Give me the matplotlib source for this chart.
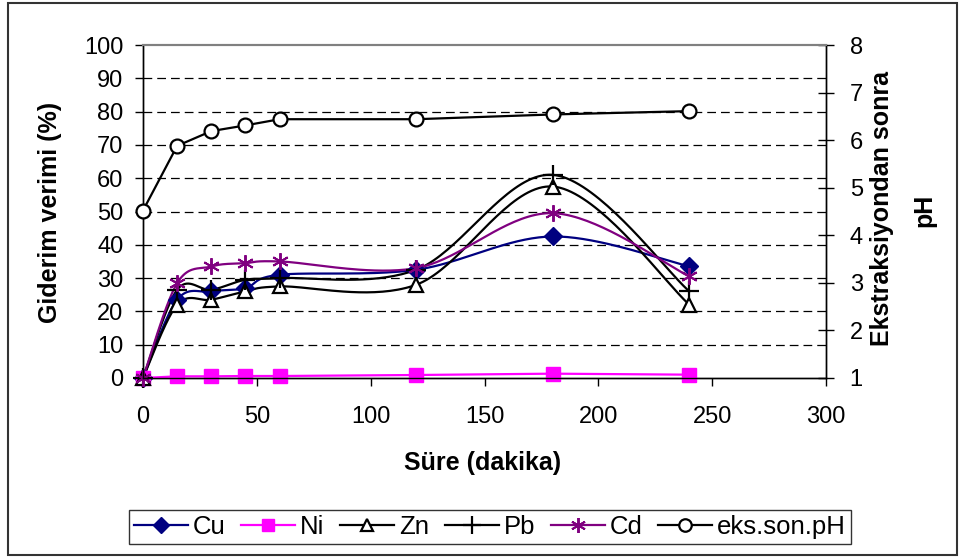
import numpy as np
import matplotlib.pyplot as plt
from matplotlib.lines import Line2D
from matplotlib.patches import Rectangle

plt.rcParams['font.family'] = ['Liberation Sans', 'DejaVu Sans']

# extraction time (minutes)
sure = [0, 15, 30, 45, 60, 120, 180, 240]

# removal efficiency (%)
cu = [0, 23.5, 26, 27, 31, 32.5, 42.5, 33.5]
ni = [0, 0.5, 0.5, 0.6, 0.6, 0.9, 1.3, 1.0]
zn = [0, 22, 23.5, 26, 27.5, 28, 57.5, 22]
pb = [0, 26.5, 26.5, 29.5, 30, 32.5, 61, 26]
cd = [0, 28.5, 33.5, 34.5, 35, 33, 49.5, 30.5]

# pH after extraction
ph = [4.52, 5.88, 6.19, 6.31, 6.44, 6.44, 6.54, 6.61]

XLIM = (0, 300)
YLIM = (0, 100)
PH_LIM = (1, 8)


def smooth_curve(x, y, xlim, ylim, w=683.0, h=333.0, n=40):
    """Excel-style smoothed line: cubic Bezier through the points with
    Catmull-Rom tangents, computed in screen proportions."""
    px = (np.asarray(x, float) - xlim[0]) / (xlim[1] - xlim[0]) * w
    py = (np.asarray(y, float) - ylim[0]) / (ylim[1] - ylim[0]) * h
    pts = np.column_stack([px, py])
    out = [pts[0]]
    t = np.linspace(0, 1, n)[1:, None]
    for i in range(len(pts) - 1):
        p0 = pts[i - 1] if i > 0 else pts[i]
        p1, p2 = pts[i], pts[i + 1]
        p3 = pts[i + 2] if i + 2 < len(pts) else pts[i + 1]
        c1 = p1 + (p2 - p0) / 6.0
        c2 = p2 - (p3 - p1) / 6.0
        seg = ((1 - t) ** 3) * p1 + 3 * ((1 - t) ** 2) * t * c1 \
            + 3 * (1 - t) * t ** 2 * c2 + t ** 3 * p2
        out.extend(seg)
    out = np.array(out)
    sx = out[:, 0] / w * (xlim[1] - xlim[0]) + xlim[0]
    sy = out[:, 1] / h * (ylim[1] - ylim[0]) + ylim[0]
    return sx, sy


fig = plt.figure(figsize=(9.6, 5.58), dpi=100)
ax = fig.add_axes([143 / 960, 1 - 378 / 558, (826 - 143) / 960, (378 - 45) / 558])
ax2 = ax.twinx()

lw = 1.6
styles = {
    'Cu': dict(color='#000080', marker='D', ms=9, mfc='#000080', mec='#000080'),
    'Ni': dict(color='#FF00FF', marker='s', ms=10, mfc='#FF00FF', mec='#FF00FF'),
    'Zn': dict(color='black', marker='^', ms=10, mfc='white', mec='black', mew=1.6),
    'Pb': dict(color='black', marker='+', ms=14, mfc='black', mec='black', mew=1.6),
    'Cd': dict(color='#800080', marker=(6, 2, 0), ms=12, mfc='#800080', mec='#800080', mew=1.4),
}
series = {'Cu': cu, 'Ni': ni, 'Zn': zn, 'Pb': pb, 'Cd': cd}
smoothed = {'Cu', 'Zn', 'Pb', 'Cd'}

for name, vals in series.items():
    st = styles[name]
    if name in smoothed:
        sx, sy = smooth_curve(sure, vals, XLIM, YLIM)
    else:
        sx, sy = sure, vals
    ax.plot(sx, sy, color=st['color'], lw=lw, zorder=3, clip_on=False)
    ax.plot(sure, vals, ls='none', marker=st['marker'], ms=st['ms'],
            mfc=st['mfc'], mec=st['mec'], mew=st.get('mew', 1.0), zorder=4,
            clip_on=False)

ax2.plot(sure, ph, color='black', lw=lw, marker='o', ms=10, mfc='white',
         mec='black', mew=1.6, zorder=4, clip_on=False)

ax.set_xlim(*XLIM)
ax.set_ylim(*YLIM)
ax2.set_ylim(*PH_LIM)
ax.set_xticks(range(0, 301, 50))
ax.set_yticks(range(0, 101, 10))
ax2.set_yticks(range(1, 9))

for y in range(10, 100, 10):
    ax.axhline(y, color='black', lw=0.9, ls=(0, (7, 4)), zorder=1)

ax.tick_params(axis='both', labelsize=17, direction='out', length=6, width=1)
ax.tick_params(axis='x', pad=14)
ax.tick_params(axis='y', pad=8)
ax2.tick_params(axis='y', labelsize=17, direction='inout', length=12, width=1, pad=11)

for a in (ax, ax2):
    a.spines['top'].set_color('#808080')
    a.spines['top'].set_linewidth(1.5)
    for s in ('left', 'right', 'bottom'):
        a.spines[s].set_color('black')
        a.spines[s].set_linewidth(1.0)

fig.text(50 / 960, 1 - 212 / 558, 'Giderim verimi (%)', rotation=90,
         ha='center', va='center', fontsize=18, fontweight='bold')
fig.text(882 / 960, 1 - 208 / 558, 'Ekstraksiyondan sonra', rotation=90,
         ha='center', va='center', fontsize=18, fontweight='bold')
fig.text(924 / 960, 1 - 210 / 558, 'pH', rotation=90,
         ha='center', va='center', fontsize=18, fontweight='bold')
fig.text(483 / 960, 1 - 463 / 558, 'Süre (dakika)', ha='center', va='center',
         fontsize=18, fontweight='bold')

# legend
handles = []
labels = ['Cu', 'Ni', 'Zn', 'Pb', 'Cd', 'eks.son.pH']
for name in labels[:5]:
    st = styles[name]
    handles.append(Line2D([], [], color=st['color'], lw=lw, marker=st['marker'],
                          ms=st['ms'] * 0.9, mfc=st['mfc'], mec=st['mec'],
                          mew=st.get('mew', 1.0)))
handles.append(Line2D([], [], color='black', lw=lw, marker='o', ms=9,
                      mfc='white', mec='black', mew=1.6))
leg = fig.legend(handles, labels, loc='center', bbox_to_anchor=(490 / 960, 1 - 527 / 558),
                 ncol=6, fontsize=18.5, frameon=True, fancybox=False, edgecolor='black',
                 handlelength=2.1, handletextpad=0.2, columnspacing=0.6,
                 borderpad=0.2, borderaxespad=0)
leg.get_frame().set_linewidth(1.0)

# chart border
fig.patches.append(Rectangle((8 / 960, 3 / 558), 949 / 960, 552 / 558,
                             transform=fig.transFigure, fill=False,
                             edgecolor='#333333', lw=1.5))

fig.savefig('out.png', dpi=100)
